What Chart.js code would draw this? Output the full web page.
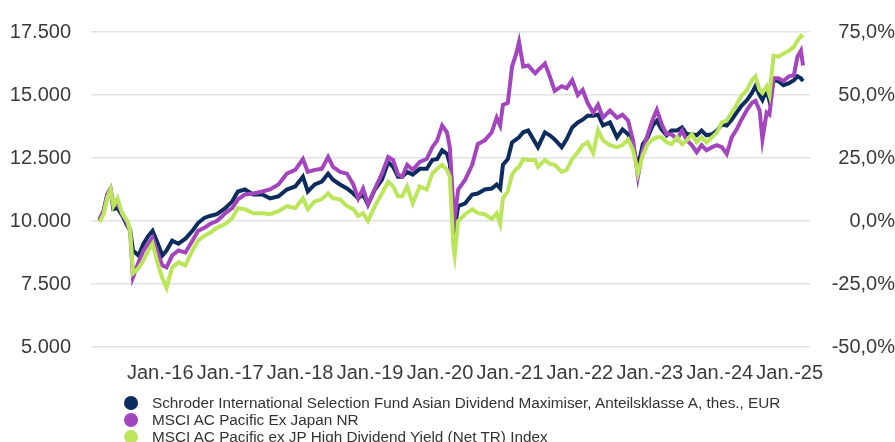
<!DOCTYPE html>
<html>
<head>
<meta charset="utf-8">
<script src="https://cdn.jsdelivr.net/npm/chart.js@4.4.0/dist/chart.umd.min.js"></script>
<style>
  body { margin: 0; background: #fff; }
  #wrap { position: relative; width: 895px; height: 442px; }
  #legend { position: absolute; left: 124px; top: 394px; font: 15.3px "Liberation Sans", Arial, sans-serif; color: #333; }
  .row { height: 17px; line-height: 17px; display: flex; align-items: center; white-space: nowrap; }
  .dot { width: 14px; height: 14px; border-radius: 50%; margin-right: 14px; flex: none; }
</style>
</head>
<body>
<div id="wrap">
  <canvas id="chart" width="895" height="442"></canvas>
  <div id="legend"></div>
</div>
<script>
// time axis in decimal years
var dates = [
  2015.13, 2015.19, 2015.24, 2015.29, 2015.33, 2015.39, 2015.46, 2015.53, 2015.57, 2015.61, 2015.69, 2015.76, 2015.83, 2015.89, 2015.96,
  2016.03, 2016.09, 2016.17, 2016.26, 2016.36, 2016.46, 2016.54, 2016.63, 2016.71, 2016.81, 2016.93,
  2017.03, 2017.11, 2017.21, 2017.33, 2017.46, 2017.57, 2017.69, 2017.81, 2017.93,
  2018.04, 2018.11, 2018.21, 2018.31, 2018.40, 2018.47, 2018.57, 2018.67, 2018.76, 2018.83, 2018.90, 2018.97,
  2019.07, 2019.17, 2019.26, 2019.33, 2019.40, 2019.46, 2019.53, 2019.61, 2019.71, 2019.81, 2019.89, 2019.96,
  2020.03, 2020.10, 2020.14, 2020.19, 2020.21, 2020.26, 2020.36, 2020.46, 2020.54, 2020.64, 2020.74, 2020.81, 2020.86, 2020.90, 2020.97,
  2021.03, 2021.09, 2021.13, 2021.19, 2021.26, 2021.36, 2021.40, 2021.50, 2021.57, 2021.64, 2021.74, 2021.81, 2021.89, 2021.97,
  2022.04, 2022.11, 2022.19, 2022.26, 2022.33, 2022.43, 2022.53, 2022.61, 2022.69, 2022.76, 2022.83, 2022.90, 2022.97,
  2023.04, 2023.10, 2023.17, 2023.24, 2023.31, 2023.39, 2023.46, 2023.53, 2023.60, 2023.67, 2023.74, 2023.81, 2023.89, 2023.96,
  2024.03, 2024.10, 2024.17, 2024.24, 2024.31, 2024.39, 2024.46, 2024.51, 2024.57, 2024.61, 2024.67, 2024.71, 2024.77, 2024.84, 2024.91, 2024.99,
  2025.06, 2025.11, 2025.16, 2025.19
];

var fund = [
  10000, 10390, 10980, 11210, 10470, 10510, 10200, 9800, 9650, 8830, 8630, 9100, 9410, 9610, 9140,
  8630, 8830, 9220, 9100, 9300, 9610, 9920, 10120, 10200, 10270, 10510,
  10780, 11170, 11250, 11050, 11050, 10900, 10980, 11250, 11370,
  11760, 11170, 11450, 11560, 11880, 11640, 11450, 11290, 11090, 10900, 11050, 10660,
  11250, 11640, 12340, 12150, 11760, 11760, 11950, 11840, 12070, 12070, 12420, 12460,
  12810, 12660, 12270, 10200, 9730, 10590, 10700, 11050, 11090, 11250, 11290, 11450, 11290, 12230, 12460,
  13120, 13240, 13320, 13520, 13590, 13120, 12930, 13520, 13400, 13240, 12930, 13240, 13710, 13910,
  14020, 14180, 14180, 14220, 13790, 13910, 13320, 13630, 13440, 12930, 12150, 13050, 13320,
  13790, 13980, 13630, 13400, 13590, 13590, 13710, 13440, 13440, 13400, 13590, 13400, 13440, 13590,
  13830, 13790, 14020, 14300, 14570, 14800, 15080, 15350, 15000, 14800, 15200, 14770, 15590, 15550, 15390, 15470,
  15590, 15740, 15660, 15550
];

var pacific = [
  10080, 10390, 11050, 11290, 10660, 10660, 10270, 9880, 9570, 7770, 8360, 8830, 9100, 9340, 8750,
  8240, 8160, 8630, 8830, 8750, 9220, 9610, 9730, 9880, 10000, 10310,
  10510, 10860, 11050, 11090, 11170, 11250, 11450, 11880, 12030,
  12460, 11950, 12030, 12070, 12540, 12150, 11950, 11880, 11450, 10900, 11290, 10660,
  11290, 11880, 12540, 12420, 11840, 11760, 12230, 12030, 12340, 12460, 12930, 13200,
  13790, 13520, 12930, 10590, 10120, 11250, 11640, 12230, 13050, 13200, 13520, 14100, 13790, 14610, 14690,
  16130, 16640, 17110, 16130, 16170, 15860, 15980, 16250, 15740, 15160, 15350, 15270, 15590, 15000,
  15200, 14690, 14300, 14610, 14100, 14380, 14100, 14220, 13980, 13200, 11760, 12810, 13440,
  14020, 14410, 13830, 13440, 13440, 13240, 13590, 13200, 13010, 12730, 13010, 12810, 12930, 13010,
  12930, 12660, 13320, 13630, 14020, 14410, 14690, 14770, 14380, 13240, 14300, 14220, 15660, 15660, 15550, 15740,
  15780, 16520, 16760, 16170
];

var highDiv = [
  9960, 10270, 10900, 11250, 10590, 10900, 10270, 10000, 9610, 7930, 8130, 8440, 8830, 9100, 8360,
  7730, 7340, 8160, 8360, 8240, 8830, 9220, 9410, 9530, 9730, 9880,
  10120, 10510, 10470, 10310, 10310, 10270, 10390, 10590, 10510,
  10900, 10470, 10780, 10860, 11090, 10900, 10860, 10590, 10470, 10200, 10310, 10000,
  10590, 11090, 11560, 11370, 10980, 10980, 11370, 10700, 11370, 11250, 11880, 12070,
  12230, 12030, 11760, 9020, 8630, 10000, 10270, 10470, 10310, 10270, 10080, 10310, 9880, 10900, 11170,
  11840, 12070, 12150, 12460, 12420, 12420, 12150, 12420, 12270, 12230, 11950, 12030, 12460, 12730,
  13010, 13120, 12700, 13600, 13200, 13010, 12930, 13010, 13240, 12810, 11880, 12620, 13050,
  13240, 13320, 13320, 13120, 13050, 13320, 13050, 13200, 13440, 13120, 13320, 13120, 13320, 13520,
  13910, 13980, 14300, 14610, 14960, 15200, 15590, 15740, 15200, 15080, 15350, 15000, 16560, 16520, 16640, 16760,
  16910, 17150, 17340, 17270
];

var seriesNames = [
  'Schroder International Selection Fund Asian Dividend Maximiser, Anteilsklasse A, thes., EUR',
  'MSCI AC Pacific Ex Japan NR',
  'MSCI AC Pacific ex JP High Dividend Yield (Net TR) Index'
];
var seriesColors = ['#0b2c5c', '#a346bd', '#bbe55b'];

var tickYears = [2016, 2017, 2018, 2019, 2020, 2021, 2022, 2023, 2024, 2025];
var tickLabels = ['Jan.-16', 'Jan.-17', 'Jan.-18', 'Jan.-19', 'Jan.-20', 'Jan.-21', 'Jan.-22', 'Jan.-23', 'Jan.-24', 'Jan.-25'];

function pts(vals) {
  return vals.map(function (v, i) { return { x: dates[i], y: v }; });
}

var textColor = '#3a3a3a';
var tickFont = { family: '"Liberation Sans", Arial, sans-serif', size: 20 };

var allSeries = [fund, pacific, highDiv];
var datasets = allSeries.map(function (vals, i) {
  return {
    label: seriesNames[i],
    data: pts(vals),
    borderColor: seriesColors[i],
    backgroundColor: seriesColors[i],
    borderWidth: 4,
    pointRadius: 0,
    tension: 0,
    order: 3 - i,
    yAxisID: 'y'
  };
});

var ctx = document.getElementById('chart').getContext('2d');
var myChart = new Chart(ctx, {
  type: 'line',
  data: { datasets: datasets },
  options: {
    responsive: false,
    animation: false,
    layout: { padding: { top: 21, bottom: 55, left: 0, right: 0 } },
    plugins: { legend: { display: false }, tooltip: { enabled: false } },
    scales: {
      x: {
        type: 'linear',
        min: 2015.01,
        max: 2025.29,
        grid: { display: false },
        border: { display: false },
        afterBuildTicks: function (s) { s.ticks = tickYears.map(function (v) { return { value: v }; }); },
        afterFit: function (s) { s.height = 40; },
        ticks: {
          autoSkip: false,
          maxRotation: 0,
          padding: 6,
          color: textColor,
          font: tickFont,
          callback: function (v, i) { return tickLabels[i]; }
        }
      },
      y: {
        position: 'left',
        min: 5000,
        max: 17500,
        grid: { color: '#e2e2e2', drawTicks: false, lineWidth: 1.5 },
        border: { display: false },
        afterFit: function (s) { s.width = 91; },
        ticks: {
          stepSize: 2500,
          padding: 20,
          color: textColor,
          font: tickFont,
          callback: function (v) { return String(v).replace(/\B(?=(\d{3})+(?!\d))/g, '.'); }
        }
      },
      y2: {
        position: 'right',
        min: -50,
        max: 75,
        grid: { display: false, drawTicks: false },
        border: { display: false },
        afterFit: function (s) { s.width = 85; },
        ticks: {
          stepSize: 25,
          padding: 19,
          crossAlign: 'far',
          color: textColor,
          font: tickFont,
          callback: function (v) { return v.toFixed(1).replace('.', ',') + '%'; }
        }
      }
    }
  }
});

// legend as a vertical list under the chart
var legend = document.getElementById('legend');
seriesNames.forEach(function (name, i) {
  var row = document.createElement('div');
  row.className = 'row';
  var dot = document.createElement('span');
  dot.className = 'dot';
  dot.style.background = seriesColors[i];
  var txt = document.createElement('span');
  txt.textContent = name;
  row.appendChild(dot);
  row.appendChild(txt);
  legend.appendChild(row);
});
</script>
</body>
</html>
